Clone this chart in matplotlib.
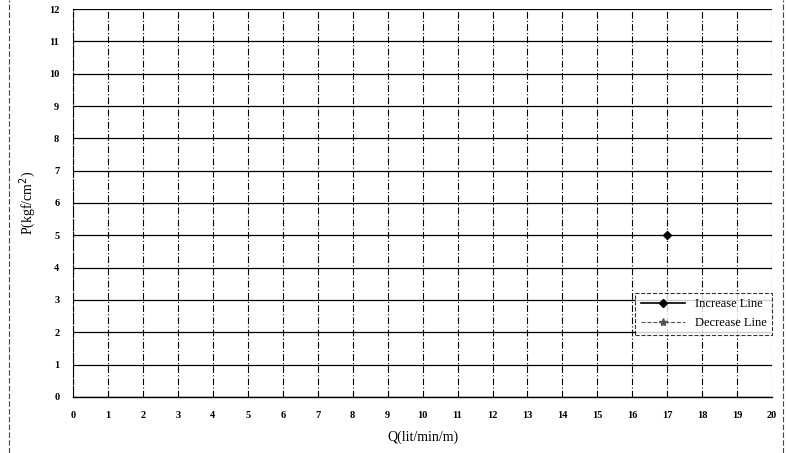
import numpy as np
import matplotlib.pyplot as plt

plt.rcParams['font.family'] = ['Liberation Serif', 'DejaVu Serif']

# data
q_increase = [17]
p_increase = [5]
q_decrease = []
p_decrease = []

x_ticks = list(range(0, 21))
y_ticks = list(range(0, 13))

fig = plt.figure(figsize=(7.87, 4.53), dpi=100)
ax = fig.add_axes([0.093, 0.124, 0.888, 0.856])

ax.plot(q_increase, p_increase, color='black', marker='D', markersize=4,
        lw=1.2, label='Increase Line')
ax.plot(q_decrease, p_decrease, color='#555555', marker='*', markersize=6,
        lw=0.8, ls='--', label='Decrease Line')

ax.set_xlim(0, 20)
ax.set_ylim(0, 12)
ax.set_xticks(x_ticks)
ax.set_yticks(y_ticks)
ax.tick_params(length=0, labelsize=7.5, pad=10)
for lab in ax.get_xticklabels() + ax.get_yticklabels():
    lab.set_fontweight('bold')

# horizontal grid solid, vertical grid dashed
ax.grid(axis='y', color='black', lw=0.9, ls='-')
ax.grid(axis='x', color='black', lw=0.8, ls=(0, (6, 2, 1, 2)))
ax.set_axisbelow(True)
for s in ['top', 'right']:
    ax.spines[s].set_visible(False)
ax.spines['left'].set_linestyle((0, (4, 2)))
ax.spines['left'].set_linewidth(0.8)
ax.spines['bottom'].set_linewidth(1.0)

ax.set_xlabel('Q(lit/min/m)', fontsize=10, labelpad=8)
ax.set_ylabel('P(kgf/cm$^2$)', fontsize=10, labelpad=8)

leg = ax.legend(loc='lower right', bbox_to_anchor=(1.0, 0.16), fontsize=9,
                frameon=True, fancybox=False, edgecolor='black',
                handlelength=3.5, borderpad=0.45, labelspacing=0.55,
                borderaxespad=0)
leg.get_frame().set_linewidth(0.8)
leg.get_frame().set_linestyle('--')

# scan border lines
fig.add_artist(plt.Line2D([0.011, 0.011], [0.0, 1.0], color='#444444',
                          lw=0.8, ls=(0, (5, 2))))
fig.add_artist(plt.Line2D([0.995, 0.995], [0.0, 1.0], color='#444444',
                          lw=0.8, ls=(0, (5, 2))))

fig.savefig('out.png', dpi=100)
